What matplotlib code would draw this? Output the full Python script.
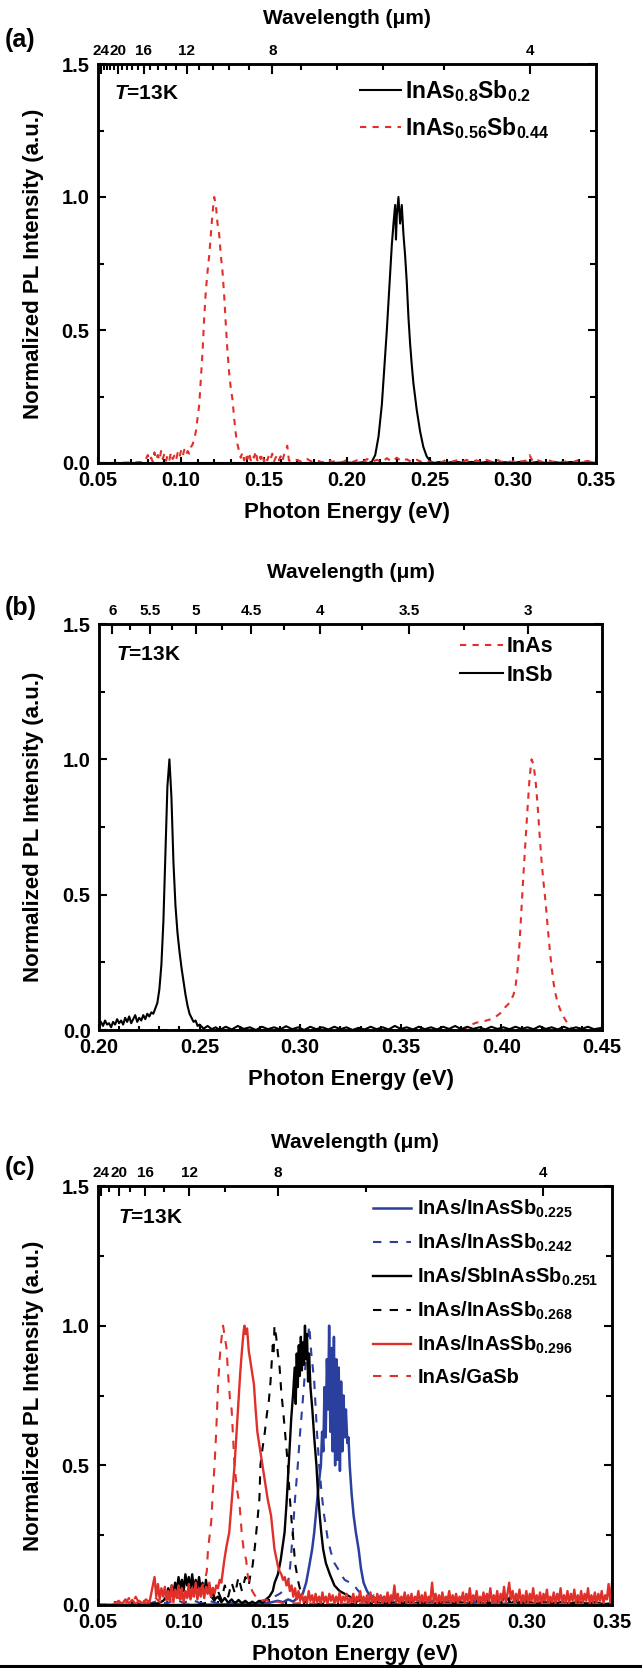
import numpy as np
import matplotlib
matplotlib.use("Agg")
import matplotlib.pyplot as plt
from matplotlib.ticker import MultipleLocator, FormatStrFormatter
from matplotlib.lines import Line2D

plt.rcParams['font.family'] = ['Liberation Sans', 'DejaVu Sans']
plt.rcParams['font.weight'] = 'bold'
plt.rcParams['axes.labelweight'] = 'bold'
plt.rcParams['mathtext.fontset'] = 'custom'
plt.rcParams['mathtext.rm'] = 'Liberation Sans:bold'
plt.rcParams['mathtext.it'] = 'Liberation Sans:italic:bold'
plt.rcParams['mathtext.bf'] = 'Liberation Sans:bold'

HC = 1.23984  # eV*um

BLUE = '#2b3f9f'
RED = '#e0302a'

# ---------------- data (photon energy eV, normalized PL) ----------------
# panel (a)
a_inas08 = [(0.050, 0.0), (0.060, 0.0), (0.070, 0.0), (0.080, 0.0), (0.090, 0.0), (0.100, 0.0),
            (0.110, 0.0), (0.120, 0.0), (0.130, 0.0), (0.140, 0.0), (0.150, 0.0), (0.160, 0.0),
            (0.170, 0.0), (0.180, 0.0), (0.190, 0.0), (0.200, 0.002), (0.205, 0.0), (0.210, 0.003),
            (0.213, 0.0), (0.215, 0.005), (0.217, 0.03), (0.219, 0.1), (0.221, 0.22), (0.2225, 0.36),
            (0.224, 0.5), (0.2255, 0.66), (0.227, 0.82), (0.228, 0.9), (0.229, 0.97), (0.2295, 0.84),
            (0.230, 0.93), (0.231, 1.0), (0.232, 0.9), (0.233, 0.97), (0.234, 0.86), (0.235, 0.78),
            (0.236, 0.68), (0.237, 0.55), (0.238, 0.45), (0.239, 0.37), (0.240, 0.3), (0.242, 0.2),
            (0.244, 0.12), (0.246, 0.06), (0.248, 0.025), (0.250, 0.008), (0.252, 0.0), (0.256, 0.004),
            (0.260, 0.0), (0.265, 0.006), (0.270, 0.0), (0.275, 0.004), (0.280, 0.0), (0.285, 0.005),
            (0.290, 0.0), (0.295, 0.003), (0.300, 0.0), (0.305, 0.005), (0.310, 0.0), (0.315, 0.004),
            (0.320, 0.0), (0.325, 0.003), (0.330, 0.0), (0.335, 0.004), (0.340, 0.0), (0.345, 0.003),
            (0.350, 0.0)]

a_inas056 = [(0.050, 0.0), (0.060, 0.0), (0.070, 0.002), (0.078, 0.004), (0.080, 0.03), (0.081, 0.008),
             (0.082, 0.02), (0.083, 0.005), (0.084, 0.04), (0.085, 0.012), (0.086, 0.03), (0.087, 0.01),
             (0.088, 0.045), (0.089, 0.015), (0.090, 0.035), (0.091, 0.008), (0.092, 0.03), (0.093, 0.012),
             (0.094, 0.04), (0.095, 0.015), (0.096, 0.028), (0.097, 0.01), (0.098, 0.038), (0.099, 0.02),
             (0.100, 0.045), (0.101, 0.025), (0.102, 0.05), (0.103, 0.03), (0.104, 0.045), (0.105, 0.035),
             (0.106, 0.06), (0.107, 0.07), (0.108, 0.09), (0.109, 0.12), (0.110, 0.17), (0.111, 0.22),
             (0.112, 0.32), (0.113, 0.42), (0.114, 0.55), (0.115, 0.65), (0.116, 0.72), (0.117, 0.78),
             (0.118, 0.86), (0.119, 0.94), (0.120, 1.0), (0.121, 0.97), (0.122, 0.9), (0.123, 0.86),
             (0.124, 0.78), (0.125, 0.72), (0.126, 0.63), (0.127, 0.52), (0.128, 0.42), (0.129, 0.34),
             (0.130, 0.28), (0.131, 0.24), (0.132, 0.17), (0.133, 0.11), (0.134, 0.07), (0.135, 0.045),
             (0.136, 0.02), (0.137, 0.04), (0.138, 0.01), (0.139, 0.035), (0.140, 0.015), (0.141, 0.04),
             (0.142, 0.01), (0.143, 0.03), (0.144, 0.02), (0.145, 0.045), (0.146, 0.01), (0.147, 0.03),
             (0.148, 0.015), (0.149, 0.035), (0.150, 0.005), (0.151, 0.025), (0.152, 0.01), (0.153, 0.03),
             (0.154, 0.015), (0.155, 0.035), (0.156, 0.005), (0.157, 0.02), (0.158, 0.03), (0.159, 0.01),
             (0.160, 0.025), (0.161, 0.005), (0.162, 0.03), (0.163, 0.04), (0.164, 0.065), (0.165, 0.01),
             (0.167, 0.003), (0.170, 0.012), (0.173, 0.003), (0.176, 0.015), (0.179, 0.004), (0.182, 0.01),
             (0.185, 0.002), (0.188, 0.014), (0.191, 0.004), (0.194, 0.01), (0.197, 0.002), (0.200, 0.012),
             (0.203, 0.003), (0.206, 0.01), (0.209, 0.002), (0.212, 0.015), (0.215, 0.004), (0.218, 0.012),
             (0.221, 0.003), (0.224, 0.018), (0.227, 0.005), (0.230, 0.02), (0.233, 0.006), (0.236, 0.014),
             (0.239, 0.003), (0.242, 0.012), (0.245, 0.004), (0.248, 0.01), (0.251, 0.002), (0.254, 0.008),
             (0.257, 0.003), (0.260, 0.012), (0.263, 0.004), (0.266, 0.01), (0.269, 0.002), (0.272, 0.012),
             (0.275, 0.004), (0.278, 0.01), (0.281, 0.003), (0.284, 0.012), (0.287, 0.005), (0.290, 0.014),
             (0.293, 0.004), (0.296, 0.01), (0.299, 0.003), (0.302, 0.012), (0.305, 0.005), (0.308, 0.01),
             (0.310, 0.03), (0.312, 0.004), (0.315, 0.01), (0.318, 0.003), (0.321, 0.012), (0.324, 0.004),
             (0.327, 0.01), (0.330, 0.002), (0.333, 0.008), (0.336, 0.003), (0.339, 0.01), (0.342, 0.004),
             (0.345, 0.008), (0.348, 0.002), (0.350, 0.005)]

# panel (b)
b_insb = [(0.200, 0.01), (0.201, 0.03), (0.202, 0.015), (0.203, 0.035), (0.204, 0.02), (0.205, 0.025),
          (0.206, 0.01), (0.207, 0.03), (0.208, 0.02), (0.209, 0.04), (0.210, 0.025), (0.211, 0.035),
          (0.212, 0.02), (0.213, 0.045), (0.214, 0.03), (0.215, 0.05), (0.216, 0.025), (0.217, 0.04),
          (0.218, 0.055), (0.219, 0.03), (0.220, 0.045), (0.221, 0.035), (0.222, 0.055), (0.223, 0.04),
          (0.224, 0.06), (0.225, 0.05), (0.226, 0.065), (0.227, 0.06), (0.228, 0.08), (0.229, 0.1),
          (0.230, 0.15), (0.231, 0.24), (0.232, 0.4), (0.233, 0.65), (0.234, 0.9), (0.235, 1.0),
          (0.236, 0.86), (0.237, 0.62), (0.238, 0.46), (0.239, 0.36), (0.240, 0.29), (0.241, 0.23),
          (0.242, 0.18), (0.243, 0.13), (0.244, 0.09), (0.245, 0.06), (0.246, 0.045), (0.247, 0.03),
          (0.248, 0.035), (0.249, 0.015), (0.250, 0.02), (0.252, 0.005), (0.254, 0.015), (0.256, 0.003),
          (0.258, 0.01), (0.260, 0.0), (0.263, 0.012), (0.266, 0.002), (0.269, 0.015), (0.272, 0.004),
          (0.275, 0.01), (0.278, 0.0), (0.281, 0.012), (0.284, 0.003), (0.287, 0.01), (0.290, 0.002),
          (0.293, 0.014), (0.296, 0.003), (0.299, 0.01), (0.302, 0.0), (0.305, 0.012), (0.308, 0.003),
          (0.311, 0.01), (0.314, 0.002), (0.317, 0.012), (0.320, 0.003), (0.323, 0.01), (0.326, 0.0),
          (0.329, 0.008), (0.332, 0.002), (0.335, 0.012), (0.338, 0.003), (0.341, 0.01), (0.344, 0.002),
          (0.347, 0.015), (0.350, 0.004), (0.353, 0.01), (0.356, 0.002), (0.359, 0.012), (0.362, 0.003),
          (0.365, 0.01), (0.368, 0.002), (0.371, 0.012), (0.374, 0.004), (0.377, 0.015), (0.380, 0.003),
          (0.383, 0.012), (0.386, 0.004), (0.389, 0.01), (0.392, 0.002), (0.395, 0.012), (0.398, 0.004),
          (0.401, 0.01), (0.404, 0.003), (0.407, 0.012), (0.410, 0.004), (0.413, 0.01), (0.416, 0.003),
          (0.419, 0.014), (0.422, 0.004), (0.425, 0.01), (0.428, 0.002), (0.431, 0.012), (0.434, 0.003),
          (0.437, 0.01), (0.440, 0.004), (0.443, 0.012), (0.446, 0.003), (0.450, 0.008)]

b_inas = [(0.200, 0.0), (0.250, 0.0), (0.300, 0.0), (0.350, 0.0), (0.380, 0.0), (0.382, 0.005),
          (0.385, 0.02), (0.388, 0.028), (0.391, 0.032), (0.394, 0.038), (0.397, 0.048), (0.400, 0.065),
          (0.402, 0.085), (0.404, 0.1), (0.406, 0.13), (0.407, 0.16), (0.408, 0.22), (0.409, 0.32),
          (0.410, 0.45), (0.411, 0.58), (0.412, 0.7), (0.413, 0.82), (0.414, 0.93), (0.415, 1.0),
          (0.416, 0.98), (0.417, 0.92), (0.418, 0.83), (0.419, 0.72), (0.420, 0.62), (0.421, 0.54),
          (0.422, 0.47), (0.423, 0.38), (0.424, 0.3), (0.425, 0.23), (0.426, 0.17), (0.427, 0.13),
          (0.428, 0.1), (0.429, 0.08), (0.430, 0.06), (0.432, 0.035), (0.434, 0.012), (0.436, 0.0),
          (0.450, 0.0)]

# panel (c)
c_sb225 = [(0.050, 0.0), (0.080, 0.0), (0.100, 0.0), (0.120, 0.002), (0.140, 0.005), (0.150, 0.008),
           (0.155, 0.015), (0.158, 0.01), (0.161, 0.02), (0.164, 0.012), (0.167, 0.03), (0.1695, 0.04),
           (0.1715, 0.08), (0.1733, 0.14), (0.175, 0.2), (0.1762, 0.26), (0.178, 0.38), (0.1795, 0.47),
           (0.1801, 0.5), (0.1808, 0.62), (0.1815, 0.55), (0.1822, 0.78), (0.1829, 0.6), (0.1836, 0.88),
           (0.1843, 0.7), (0.1849, 1.0), (0.1856, 0.62), (0.1863, 0.92), (0.1870, 0.55), (0.1877, 0.96),
           (0.1884, 0.5), (0.1891, 0.88), (0.1898, 0.52), (0.1905, 0.85), (0.1912, 0.48), (0.1919, 0.8),
           (0.1926, 0.55), (0.1933, 0.75), (0.1940, 0.6), (0.1947, 0.7), (0.1955, 0.58), (0.1962, 0.6),
           (0.1969, 0.5), (0.1980, 0.4), (0.1992, 0.32), (0.2005, 0.26), (0.2021, 0.2), (0.2035, 0.13),
           (0.205, 0.08), (0.207, 0.05), (0.209, 0.03), (0.211, 0.02), (0.214, 0.03), (0.217, 0.01),
           (0.220, 0.025), (0.223, 0.008), (0.226, 0.02), (0.229, 0.005), (0.232, 0.015), (0.236, 0.003),
           (0.240, 0.012), (0.245, 0.004), (0.250, 0.01), (0.260, 0.003), (0.270, 0.008), (0.280, 0.002),
           (0.290, 0.006), (0.300, 0.002), (0.320, 0.005), (0.350, 0.002)]

c_sb242 = [(0.050, 0.0), (0.080, 0.005), (0.085, 0.015), (0.090, 0.005), (0.095, 0.02), (0.100, 0.008),
           (0.105, 0.018), (0.110, 0.006), (0.115, 0.015), (0.120, 0.005), (0.125, 0.012), (0.130, 0.004),
           (0.135, 0.01), (0.140, 0.005), (0.145, 0.015), (0.150, 0.02), (0.153, 0.03), (0.156, 0.04),
           (0.158, 0.05), (0.160, 0.06), (0.1615, 0.1), (0.1625, 0.16), (0.1637, 0.26), (0.165, 0.38),
           (0.1666, 0.5), (0.168, 0.62), (0.1695, 0.73), (0.171, 0.85), (0.172, 0.93), (0.1733, 1.0),
           (0.1745, 0.9), (0.1762, 0.8), (0.1778, 0.62), (0.1791, 0.5), (0.1805, 0.4), (0.182, 0.32),
           (0.184, 0.24), (0.1859, 0.19), (0.188, 0.15), (0.190, 0.13), (0.1917, 0.11), (0.194, 0.09),
           (0.197, 0.08), (0.1995, 0.07), (0.202, 0.05), (0.205, 0.03), (0.208, 0.02), (0.211, 0.035),
           (0.214, 0.015), (0.217, 0.03), (0.220, 0.01), (0.223, 0.025), (0.226, 0.012), (0.229, 0.03),
           (0.232, 0.01), (0.235, 0.025), (0.238, 0.008), (0.241, 0.03), (0.244, 0.012), (0.247, 0.02),
           (0.250, 0.006), (0.255, 0.015), (0.260, 0.004), (0.265, 0.012), (0.270, 0.003), (0.275, 0.01),
           (0.280, 0.004), (0.285, 0.012), (0.290, 0.003), (0.295, 0.01), (0.300, 0.002), (0.310, 0.008),
           (0.320, 0.002), (0.330, 0.006), (0.340, 0.002), (0.350, 0.004)]

c_sb251 = [(0.050, 0.0), (0.070, 0.0), (0.080, 0.003), (0.085, 0.006), (0.088, 0.015), (0.090, 0.03),
           (0.091, 0.06), (0.092, 0.035), (0.093, 0.07), (0.094, 0.04), (0.095, 0.08), (0.096, 0.05),
           (0.097, 0.1), (0.098, 0.06), (0.099, 0.09), (0.100, 0.05), (0.101, 0.11), (0.102, 0.07),
           (0.103, 0.1), (0.104, 0.06), (0.105, 0.11), (0.106, 0.05), (0.107, 0.09), (0.108, 0.06),
           (0.109, 0.1), (0.110, 0.05), (0.111, 0.08), (0.112, 0.04), (0.113, 0.09), (0.114, 0.05),
           (0.115, 0.07), (0.116, 0.03), (0.117, 0.06), (0.118, 0.02), (0.120, 0.03), (0.122, 0.01),
           (0.124, 0.025), (0.126, 0.008), (0.128, 0.02), (0.130, 0.005), (0.132, 0.018), (0.134, 0.006),
           (0.136, 0.015), (0.138, 0.004), (0.140, 0.012), (0.142, 0.005), (0.144, 0.015), (0.146, 0.008),
           (0.148, 0.02), (0.150, 0.03), (0.152, 0.05), (0.1531, 0.08), (0.155, 0.11), (0.1566, 0.16),
           (0.1589, 0.26), (0.160, 0.36), (0.1613, 0.5), (0.1628, 0.67), (0.1638, 0.75), (0.1648, 0.85),
           (0.1654, 0.72), (0.1660, 0.9), (0.1666, 0.78), (0.1672, 0.93), (0.1678, 0.82), (0.1684, 0.96),
           (0.1690, 0.84), (0.1696, 0.94), (0.1702, 0.86), (0.1708, 1.0), (0.1714, 0.88), (0.1720, 0.97),
           (0.1726, 0.8), (0.1732, 0.9), (0.1740, 0.78), (0.1751, 0.7), (0.1762, 0.6), (0.1775, 0.5),
           (0.1784, 0.4), (0.1794, 0.32), (0.1803, 0.26), (0.1814, 0.2), (0.183, 0.15), (0.1853, 0.11),
           (0.188, 0.07), (0.191, 0.05), (0.194, 0.04), (0.197, 0.03), (0.200, 0.01), (0.204, 0.02),
           (0.208, 0.005), (0.212, 0.015), (0.216, 0.003), (0.220, 0.01), (0.225, 0.002), (0.230, 0.012),
           (0.235, 0.003), (0.240, 0.01), (0.245, 0.002), (0.250, 0.012), (0.255, 0.004), (0.260, 0.015),
           (0.265, 0.003), (0.270, 0.02), (0.273, 0.005), (0.276, 0.03), (0.279, 0.004), (0.282, 0.025),
           (0.285, 0.006), (0.288, 0.035), (0.291, 0.005), (0.294, 0.02), (0.297, 0.004), (0.300, 0.015),
           (0.305, 0.003), (0.310, 0.012), (0.315, 0.004), (0.320, 0.01), (0.325, 0.003), (0.330, 0.012),
           (0.335, 0.004), (0.340, 0.01), (0.345, 0.003), (0.350, 0.006)]

c_sb268 = [(0.050, 0.0), (0.090, 0.0), (0.110, 0.002), (0.114, 0.01), (0.116, 0.03), (0.118, 0.015),
           (0.120, 0.05), (0.122, 0.02), (0.124, 0.07), (0.126, 0.03), (0.128, 0.08), (0.130, 0.04),
           (0.132, 0.1), (0.134, 0.05), (0.136, 0.1), (0.138, 0.07), (0.139, 0.11), (0.1402, 0.14),
           (0.1416, 0.21), (0.143, 0.3), (0.1442, 0.38), (0.1448, 0.5), (0.146, 0.56), (0.1474, 0.62),
           (0.1485, 0.68), (0.1497, 0.73), (0.1507, 0.8), (0.1515, 0.88), (0.152, 0.93), (0.1525, 0.9),
           (0.153, 1.0), (0.154, 0.96), (0.155, 0.9), (0.156, 0.85), (0.157, 0.76), (0.158, 0.7),
           (0.159, 0.63), (0.160, 0.56), (0.1608, 0.5), (0.162, 0.38), (0.163, 0.3), (0.1637, 0.26),
           (0.165, 0.15), (0.167, 0.08), (0.169, 0.03), (0.171, 0.01), (0.175, 0.0), (0.180, 0.005),
           (0.190, 0.0), (0.200, 0.005), (0.210, 0.0), (0.220, 0.008), (0.230, 0.002), (0.240, 0.01),
           (0.250, 0.003), (0.260, 0.008), (0.270, 0.002), (0.280, 0.01), (0.285, 0.03), (0.288, 0.005),
           (0.292, 0.04), (0.295, 0.008), (0.300, 0.02), (0.305, 0.003), (0.310, 0.015), (0.320, 0.003),
           (0.330, 0.008), (0.340, 0.002), (0.350, 0.005)]

c_sb296 = [(0.050, 0.0), (0.058, 0.0), (0.060, 0.004), (0.062, 0.015), (0.064, 0.003), (0.066, 0.02),
           (0.068, 0.006), (0.070, 0.018), (0.072, 0.003), (0.074, 0.015), (0.076, 0.005), (0.078, 0.02),
           (0.080, 0.008), (0.081, 0.04), (0.082, 0.07), (0.083, 0.1), (0.084, 0.03), (0.085, 0.075),
           (0.086, 0.02), (0.087, 0.06), (0.088, 0.03), (0.089, 0.065), (0.090, 0.015), (0.091, 0.05),
           (0.092, 0.02), (0.093, 0.07), (0.094, 0.01), (0.095, 0.055), (0.096, 0.025), (0.097, 0.07),
           (0.098, 0.02), (0.099, 0.06), (0.100, 0.01), (0.101, 0.05), (0.102, 0.025), (0.103, 0.075),
           (0.104, 0.02), (0.105, 0.06), (0.106, 0.03), (0.107, 0.08), (0.108, 0.02), (0.109, 0.055),
           (0.110, 0.03), (0.111, 0.07), (0.112, 0.025), (0.113, 0.065), (0.114, 0.04), (0.115, 0.08),
           (0.116, 0.03), (0.117, 0.06), (0.118, 0.04), (0.119, 0.07), (0.120, 0.06), (0.121, 0.09),
           (0.122, 0.08), (0.1237, 0.16), (0.125, 0.21), (0.1266, 0.26), (0.128, 0.37), (0.1297, 0.5),
           (0.131, 0.63), (0.132, 0.73), (0.133, 0.83), (0.134, 0.91), (0.135, 0.98), (0.1355, 1.0),
           (0.136, 0.97), (0.137, 0.99), (0.138, 0.91), (0.1395, 0.85), (0.141, 0.79), (0.142, 0.7),
           (0.143, 0.62), (0.1445, 0.56), (0.146, 0.5), (0.1475, 0.44), (0.149, 0.38), (0.150, 0.35),
           (0.151, 0.32), (0.152, 0.26), (0.153, 0.2), (0.154, 0.17), (0.155, 0.14), (0.156, 0.12),
           (0.157, 0.11), (0.158, 0.09), (0.159, 0.1), (0.160, 0.07), (0.161, 0.09), (0.162, 0.05),
           (0.163, 0.07), (0.164, 0.03), (0.165, 0.06), (0.166, 0.02), (0.167, 0.05), (0.168, 0.015),
           (0.169, 0.04), (0.170, 0.01), (0.171, 0.03), (0.172, 0.008), (0.173, 0.05), (0.174, 0.015),
           (0.175, 0.035), (0.176, 0.005), (0.177, 0.04), (0.178, 0.01), (0.179, 0.03), (0.180, 0.005),
           (0.181, 0.045), (0.182, 0.01), (0.183, 0.03), (0.184, 0.005), (0.185, 0.04), (0.186, 0.015),
           (0.187, 0.035), (0.188, 0.005), (0.189, 0.03), (0.190, 0.01), (0.191, 0.045), (0.192, 0.005),
           (0.193, 0.03), (0.194, 0.015), (0.195, 0.04), (0.196, 0.005), (0.197, 0.025), (0.198, 0.01),
           (0.199, 0.04), (0.200, 0.005), (0.201, 0.03), (0.202, 0.015), (0.203, 0.05), (0.204, 0.005),
           (0.205, 0.03), (0.206, 0.01), (0.207, 0.035), (0.208, 0.005), (0.209, 0.045), (0.210, 0.01),
           (0.211, 0.03), (0.212, 0.005), (0.213, 0.04), (0.214, 0.012), (0.215, 0.035), (0.216, 0.005),
           (0.217, 0.03), (0.218, 0.01), (0.219, 0.045), (0.220, 0.005), (0.221, 0.035), (0.222, 0.015),
           (0.223, 0.07), (0.224, 0.01), (0.225, 0.04), (0.226, 0.005), (0.227, 0.03), (0.228, 0.012),
           (0.229, 0.045), (0.230, 0.005), (0.231, 0.035), (0.232, 0.01), (0.233, 0.04), (0.234, 0.005),
           (0.235, 0.03), (0.236, 0.015), (0.237, 0.05), (0.238, 0.005), (0.239, 0.035), (0.240, 0.01),
           (0.241, 0.045), (0.242, 0.005), (0.243, 0.03), (0.244, 0.015), (0.245, 0.08), (0.246, 0.01),
           (0.247, 0.04), (0.248, 0.005), (0.249, 0.035), (0.250, 0.01), (0.251, 0.045), (0.252, 0.005),
           (0.253, 0.03), (0.254, 0.015), (0.255, 0.05), (0.256, 0.005), (0.257, 0.035), (0.258, 0.01),
           (0.259, 0.04), (0.260, 0.005), (0.261, 0.03), (0.262, 0.015), (0.263, 0.045), (0.264, 0.005),
           (0.265, 0.04), (0.266, 0.01), (0.267, 0.06), (0.268, 0.005), (0.269, 0.035), (0.270, 0.015),
           (0.271, 0.05), (0.272, 0.005), (0.273, 0.03), (0.274, 0.01), (0.275, 0.045), (0.276, 0.005),
           (0.277, 0.04), (0.278, 0.015), (0.279, 0.06), (0.280, 0.005), (0.281, 0.035), (0.282, 0.01),
           (0.283, 0.05), (0.284, 0.005), (0.285, 0.04), (0.286, 0.015), (0.287, 0.065), (0.288, 0.01),
           (0.289, 0.04), (0.290, 0.08), (0.291, 0.02), (0.292, 0.05), (0.293, 0.005), (0.294, 0.04),
           (0.295, 0.015), (0.296, 0.055), (0.297, 0.005), (0.298, 0.035), (0.299, 0.01), (0.300, 0.05),
           (0.301, 0.005), (0.302, 0.04), (0.303, 0.015), (0.304, 0.06), (0.305, 0.005), (0.306, 0.035),
           (0.307, 0.01), (0.308, 0.045), (0.309, 0.005), (0.310, 0.04), (0.311, 0.015), (0.312, 0.055),
           (0.313, 0.005), (0.314, 0.03), (0.315, 0.01), (0.316, 0.045), (0.317, 0.005), (0.318, 0.04),
           (0.319, 0.015), (0.320, 0.06), (0.321, 0.005), (0.322, 0.035), (0.323, 0.01), (0.324, 0.05),
           (0.325, 0.005), (0.326, 0.04), (0.327, 0.015), (0.328, 0.055), (0.329, 0.005), (0.330, 0.035),
           (0.331, 0.01), (0.332, 0.05), (0.333, 0.005), (0.334, 0.04), (0.335, 0.015), (0.336, 0.06),
           (0.337, 0.005), (0.338, 0.035), (0.339, 0.01), (0.340, 0.045), (0.341, 0.005), (0.342, 0.04),
           (0.343, 0.015), (0.344, 0.05), (0.345, 0.005), (0.346, 0.035), (0.347, 0.02), (0.348, 0.075),
           (0.349, 0.01), (0.350, 0.08)]

c_gasb = [(0.050, 0.0), (0.058, 0.0), (0.060, 0.01), (0.062, 0.003), (0.064, 0.02), (0.066, 0.005),
          (0.068, 0.025), (0.070, 0.008), (0.072, 0.03), (0.074, 0.006), (0.076, 0.02), (0.078, 0.004),
          (0.080, 0.015), (0.083, 0.03), (0.086, 0.01), (0.089, 0.035), (0.092, 0.015), (0.095, 0.04),
          (0.098, 0.02), (0.101, 0.045), (0.104, 0.025), (0.107, 0.05), (0.110, 0.06), (0.112, 0.08),
          (0.1135, 0.12), (0.1142, 0.2), (0.115, 0.24), (0.1161, 0.3), (0.117, 0.4), (0.118, 0.5),
          (0.119, 0.62), (0.120, 0.78), (0.121, 0.88), (0.122, 0.95), (0.123, 1.0), (0.124, 0.96),
          (0.125, 0.92), (0.126, 0.82), (0.127, 0.74), (0.128, 0.7), (0.129, 0.58), (0.1297, 0.5),
          (0.131, 0.42), (0.132, 0.38), (0.1326, 0.36), (0.134, 0.25), (0.135, 0.2), (0.1365, 0.16),
          (0.1375, 0.1), (0.1385, 0.08), (0.140, 0.05), (0.142, 0.03), (0.145, 0.012), (0.148, 0.02),
          (0.151, 0.005), (0.155, 0.012), (0.160, 0.003), (0.170, 0.008), (0.180, 0.002), (0.200, 0.006),
          (0.220, 0.002), (0.250, 0.005), (0.280, 0.002), (0.310, 0.005), (0.350, 0.002)]

# wavelength ticks on top axes (um)
a_wl_major = [24, 20, 16, 12, 8, 4]
a_wl_minor = [23.2, 22.4, 21.6, 20.8, 19.2, 18.4, 17.6, 16.8, 15.2, 14.4, 13.6, 12.8,
              11.2, 10.4, 9.6, 8.8, 7.2, 6.4, 5.6, 4.8]
b_wl_major = [6, 5.5, 5, 4.5, 4, 3.5, 3]
b_wl_minor = [5.75, 5.25, 4.75, 4.25, 3.75, 3.25]
c_wl_major = [24, 20, 16, 12, 8, 4]
c_wl_minor = [22, 18, 14, 10, 6]

W, H = 642, 1668
fig = plt.figure(figsize=(W / 100, H / 100), dpi=100)


def px_rect(left, right, top, bottom):
    return [left / W, 1 - bottom / H, (right - left) / W, (bottom - top) / H]


def make_panel(rect, xlim, wl_major, wl_minor, wl_labels, letter, letter_y):
    ax = fig.add_axes(rect)
    ax.set_xlim(*xlim)
    ax.set_ylim(0, 1.5)
    ax.xaxis.set_major_locator(MultipleLocator(0.05))
    ax.xaxis.set_minor_locator(MultipleLocator(0.01))
    ax.yaxis.set_major_locator(MultipleLocator(0.5))
    ax.yaxis.set_minor_locator(MultipleLocator(0.25))
    ax.xaxis.set_major_formatter(FormatStrFormatter('%.2f'))
    ax.yaxis.set_major_formatter(FormatStrFormatter('%.1f'))
    ax.tick_params(which='both', direction='in', top=False, right=True, width=1.5,
                   labelsize=14.5)
    ax.tick_params(axis='x', which='major', length=4, pad=5.5)
    ax.tick_params(axis='x', which='minor', length=3)
    ax.tick_params(axis='y', which='major', length=6, pad=6)
    ax.tick_params(axis='y', which='minor', length=4)
    for s in ax.spines.values():
        s.set_linewidth(1.8)
    ax.set_xlabel('Photon Energy (eV)', fontsize=16)
    ax.set_ylabel('Normalized PL Intensity (a.u.)', fontsize=16)

    top = ax.twiny()
    top.set_xlim(*xlim)
    top.set_xticks([HC / w for w in wl_major])
    top.set_xticklabels(wl_labels)
    top.set_xticks([HC / w for w in wl_minor], minor=True)
    top.tick_params(which='both', direction='in', width=1.5, labelsize=11, pad=4)
    top.tick_params(which='major', length=7)
    top.tick_params(which='minor', length=4)
    for s in top.spines.values():
        s.set_linewidth(1.8)
    top.set_xlabel('Wavelength (\u03bcm)', fontsize=15)

    fig.text(5 / W, 1 - letter_y / H, letter, fontsize=18, fontweight='bold',
             ha='left', va='center')
    return ax, top


def place_labels(ax, top, bottom_y, top_y, ylab_x):
    ax.xaxis.set_label_coords(0.5, bottom_y)
    ax.xaxis.label.set_verticalalignment('center')
    top.xaxis.set_label_coords(0.5, top_y)
    top.xaxis.label.set_verticalalignment('center')
    ax.yaxis.set_label_coords(ylab_x, 0.5)
    ax.yaxis.label.set_verticalalignment('center')


# ---------------- (a) ----------------
ax, top = make_panel(px_rect(98, 596, 64, 463), (0.05, 0.35), a_wl_major, a_wl_minor,
                     [str(w) for w in a_wl_major], '(a)', 40)
e, i = np.array(a_inas08).T
l1, = ax.plot(e, i, color='black', lw=1.5)
e, i = np.array(a_inas056).T
l2, = ax.plot(e, i, color=RED, lw=1.5, ls=(0, (3, 3)))
ax.text(0.032, 0.927, '$T$=13K', transform=ax.transAxes, fontsize=15, va='center')
ax.legend([l1, l2], ['InAs$_{0.8}$Sb$_{0.2}$', 'InAs$_{0.56}$Sb$_{0.44}$'],
          loc='upper left', bbox_to_anchor=(0.526, 0.965), frameon=False, fontsize=16.5,
          handlelength=1.8, handletextpad=0.15, labelspacing=0.5, borderpad=0, borderaxespad=0)
place_labels(ax, top, -0.125, 1.115, -0.13)

# ---------------- (b) ----------------
ax, top = make_panel(px_rect(99, 602, 624, 1030), (0.20, 0.45), b_wl_major, b_wl_minor,
                     [('%g' % w) for w in b_wl_major], '(b)', 608)
e, i = np.array(b_inas).T
l1, = ax.plot(e, i, color=RED, lw=1.5, ls=(0, (3, 3)))
e, i = np.array(b_insb).T
l2, = ax.plot(e, i, color='black', lw=1.5)
ax.text(0.034, 0.924, '$T$=13K', transform=ax.transAxes, fontsize=15, va='center')
ax.legend([l1, l2], ['InAs', 'InSb'],
          loc='upper left', bbox_to_anchor=(0.718, 0.97), frameon=False, fontsize=15.5,
          handlelength=2.0, handletextpad=0.15, labelspacing=0.35, borderpad=0, borderaxespad=0)
place_labels(ax, top, -0.123, 1.128, -0.13)

# ---------------- (c) ----------------
ax, top = make_panel(px_rect(98, 612, 1186, 1605), (0.05, 0.35), c_wl_major, c_wl_minor,
                     [str(w) for w in c_wl_major], '(c)', 1168)
series_c = [(c_sb225, BLUE, '-', 1.8, 'InAs/InAsSb$_{0.225}$'),
            (c_sb242, BLUE, (0, (4, 4)), 1.5, 'InAs/InAsSb$_{0.242}$'),
            (c_sb251, 'black', '-', 1.7, 'InAs/SbInAsSb$_{0.251}$'),
            (c_sb268, 'black', (0, (4, 4)), 1.5, 'InAs/InAsSb$_{0.268}$'),
            (c_gasb, RED, (0, (4, 4)), 1.5, 'InAs/GaSb'),
            (c_sb296, RED, '-', 1.7, 'InAs/InAsSb$_{0.296}$')]
handles = {}
for data, col, ls, lw, lab in series_c:
    e, i = np.array(data).T
    handles[lab], = ax.plot(e, i, color=col, lw=lw, ls=ls)
order = ['InAs/InAsSb$_{0.225}$', 'InAs/InAsSb$_{0.242}$', 'InAs/SbInAsSb$_{0.251}$',
         'InAs/InAsSb$_{0.268}$', 'InAs/InAsSb$_{0.296}$', 'InAs/GaSb']
ax.text(0.039, 0.926, '$T$=13K', transform=ax.transAxes, fontsize=15, va='center')
ax.legend([handles[k] for k in order], order,
          loc='upper left', bbox_to_anchor=(0.535, 0.972), frameon=False, fontsize=14.5,
          handlelength=1.9, handletextpad=0.3, labelspacing=0.58, borderpad=0, borderaxespad=0)
place_labels(ax, top, -0.119, 1.105, -0.125)

fig.add_artist(Line2D([0, 1], [1 - 1666 / H, 1 - 1666 / H], transform=fig.transFigure,
                      color='black', lw=2.2))

fig.savefig('out.png', dpi=100)
